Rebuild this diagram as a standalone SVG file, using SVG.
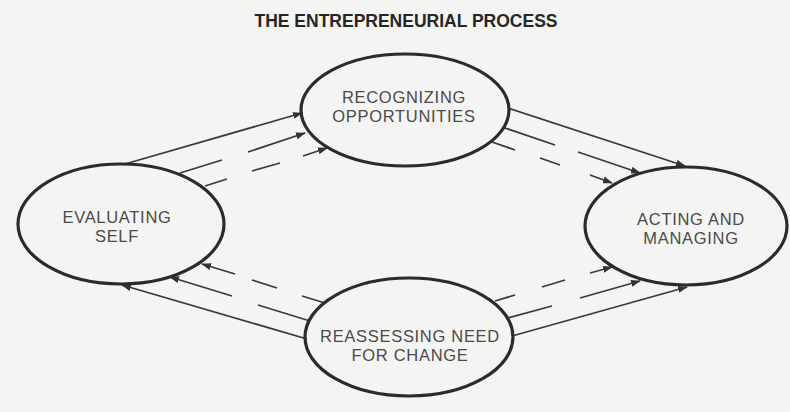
<svg xmlns="http://www.w3.org/2000/svg" width="790" height="412" viewBox="0 0 790 412">
  <defs>
    <marker id="arrow" markerUnits="userSpaceOnUse" markerWidth="10" markerHeight="7" refX="9" refY="3.5" orient="auto">
      <path d="M0,0 L10,3.5 L0,7 Z" fill="#333"/>
    </marker>
    <style>
      .node ellipse { fill: none; stroke: #2b2b2b; stroke-width: 3.2; }
      .node text { font-family: "Liberation Sans", Arial, Helvetica, sans-serif; font-size: 16.5px; letter-spacing: 0.7px; fill: #4a4a4a; text-anchor: middle; }
      .title { font-family: "Liberation Sans", Arial, Helvetica, sans-serif; font-size: 17.5px; font-weight: bold; fill: #262626; text-anchor: middle; }
      .conn path { fill: none; stroke: #3a3a3a; stroke-width: 1.8; marker-end: url(#arrow); }
    </style>
  </defs>
  <rect x="0" y="0" width="790" height="412" fill="#f4f4f2"/>
  <text class="title" x="406" y="27">THE ENTREPRENEURIAL PROCESS</text>

  <g id="connectors" class="conn">
    <!-- Evaluating self -> Recognizing opportunities -->
    <path d="M125,164 L302,113"/>
    <path d="M180,173 L222,160 M248,152 L305,133"/>
    <path d="M205,186 L227,179 M252,171 L280,163 M303,156 L327,148"/>
    <!-- Recognizing opportunities -> Acting and managing -->
    <path d="M508,108 L685,166"/>
    <path d="M505,128 L555,145 M578,152 L640,173"/>
    <path d="M492,142 L515,150 M540,158 L560,165 M590,175 L612,183"/>
    <!-- Reassessing need for change -> Evaluating self -->
    <path d="M307,339 L122,285"/>
    <path d="M310,321 L258,305 M232,296 L170,277"/>
    <path d="M325,303 L302,296 M277,288 L252,280 M235,274 L202,264"/>
    <!-- Reassessing need for change -> Acting and managing -->
    <path d="M512,336 L687,287"/>
    <path d="M508,318 L552,306 M580,298 L640,281"/>
    <path d="M495,301 L515,295 M542,287 L565,280 M590,273 L612,267"/>
  </g>

  <g id="recognizing" class="node">
    <ellipse cx="405" cy="110" rx="104" ry="56"/>
    <text x="404" y="103">RECOGNIZING</text>
    <text x="404" y="122">OPPORTUNITIES</text>
  </g>
  <g id="evaluating" class="node">
    <ellipse cx="121" cy="224" rx="103" ry="60"/>
    <text x="117" y="223">EVALUATING</text>
    <text x="117" y="242">SELF</text>
  </g>
  <g id="acting" class="node">
    <ellipse cx="686" cy="226" rx="101" ry="59"/>
    <text x="691" y="225">ACTING AND</text>
    <text x="691" y="244">MANAGING</text>
  </g>
  <g id="reassessing" class="node">
    <ellipse cx="409" cy="337" rx="104" ry="59"/>
    <text x="410" y="342">REASSESSING NEED</text>
    <text x="410" y="361">FOR CHANGE</text>
  </g>
</svg>
